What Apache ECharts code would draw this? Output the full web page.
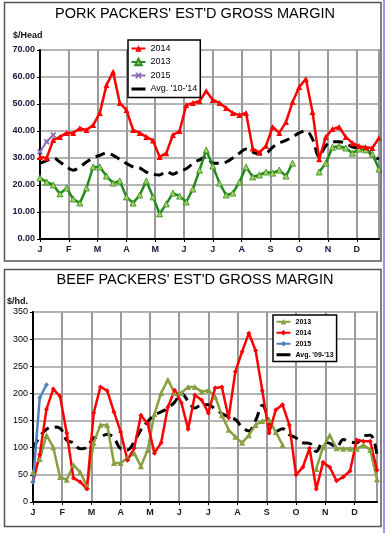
<!DOCTYPE html>
<html><head><meta charset="utf-8">
<script src="https://cdn.jsdelivr.net/npm/echarts/dist/echarts.min.js"></script>
<style>html,body{margin:0;padding:0;background:#fff}#c{width:390px;height:533px}</style>
</head><body><div id="c"></div>
<script>
const months = ['J','F','M','A','M','J','J','A','S','O','N','D'];
// Pork ($/Head), weekly
const pork2014 = [30.4,30,36.7,37.8,39.3,39.3,41,40.4,42.2,46.7,57,61.9,50.4,47.8,40.4,39.3,37.8,36.5,30.4,31.8,38.5,40,49.6,50.4,51,54.8,51.5,50.4,48.5,46.7,45.9,46.7,33.5,32,34.5,41.5,39.3,43.3,50.7,56.3,59.3,47,29.5,37.8,40.7,41.5,37.8,35.5,34.4,34,33.7,37.4];
const pork2013 = [22.6,21.1,20,16.7,18.9,14.8,13.3,18.9,26.7,26.7,23.3,20.7,21.5,15.6,13.3,16.3,21.5,15.6,9.3,13,17,15.9,13.7,18.5,25.5,33,27,20.7,16.3,17,21.1,26.7,23,23.7,24.8,24.4,25.5,23.3,28.1,null,null,null,24.8,28.1,34,34.4,33.7,31.8,33.3,33,31.5,25.9];
const pork2015 = [32.3,36,38.5];
const porkAvg = [28.1,29,30,28.5,26.7,25.5,26.7,28.5,30,31,31.8,31,29.5,28,26.7,26.3,24.8,24,23.7,25,24,25.2,26,28,29.3,30.4,28.1,28.1,28.5,30,31.8,33.3,32.2,31.5,31.8,34,35.5,36.5,37.8,39.3,40,37,30.5,34.5,36,36,35.5,34,33.7,33.3,31,29.6];
// Beef ($/hd.), weekly
const beef2013 = [55,79,123,101,46,41,68,55,29,109,142,142,72,72,81,90,66,96,162,201,225,201,201,212,212,203,206,194,160,133,120,109,123,142,149,151,129,105,null,null,null,null,61,101,123,99,98,98,98,105,96,42];
const beef2014 = [37,87,171,208,195,127,44,37,24,164,212,205,166,129,77,99,160,144,90,109,175,206,183,134,197,188,164,210,212,155,240,277,311,279,205,127,170,179,142,50,64,99,24,73,64,39,46,57,114,112,112,59];
const beef2015 = [37,192,216];
const beefAvg = [99,120,134,138,136,114,109,98,101,118,120,125,118,98,96,111,133,148,160,166,173,184,200,186,173,179,179,171,163,157,152,138,131,150,178,150,130,135,124,118,109,108,93,110,108,101,115,111,109,122,123,87];

const WEEKS = 52;
const toXY = arr => arr.map((v, i) => [i * 12 / WEEKS, v == null ? '-' : v]);
const FONT = "'Liberation Sans', Arial, sans-serif";
const xMax = 51 * 12 / WEEKS;

function xAxis(gi, color) {
  return {
    type: 'value', gridIndex: gi, min: 0, max: xMax, interval: 1,
    axisLine: { show: true, onZero: false, lineStyle: { color: '#000', width: 2 } },
    axisTick: { show: true, length: 3, lineStyle: { color: '#000', width: 1 } },
    axisLabel: { margin: 6, fontSize: 9, fontWeight: 'bold', color: color, fontFamily: FONT,
      showMaxLabel: false,
      formatter: v => { const i = Math.round(v); return Math.abs(v - i) < 1e-6 && months[i] ? months[i] : ''; } },
    splitLine: { show: true, lineStyle: { color: '#9a9a9a', width: 2 } }
  };
}
function yAxis(gi, max, interval, fmt) {
  return {
    type: 'value', gridIndex: gi, min: 0, max: max, interval: interval,
    axisLine: { show: true, lineStyle: { color: '#000', width: 2 } },
    axisTick: { show: true, length: 3, lineStyle: { color: '#000', width: 1 } },
    axisLabel: { margin: 5, fontSize: 9, fontWeight: gi === 0 ? 'bold' : 'normal', color: gi === 0 ? '#15153f' : '#000', fontFamily: FONT, formatter: fmt },
    splitLine: { show: true, lineStyle: { color: '#b4b4b4', width: 2 } }
  };
}

const crossPath = 'path://M2,0L5,3L8,0L10,2L7,5L10,8L8,10L5,7L2,10L0,8L3,5L0,2Z';
const hideSym = { color: 'rgba(0,0,0,0)', borderWidth: 0, opacity: 0 };
const solidLine = { type: 'solid', width: 3, color: '#000' };

const option = {
  animation: false,
  backgroundColor: '#fff',
  textStyle: { fontFamily: FONT },
  title: [
    { text: "PORK PACKERS' EST'D GROSS MARGIN", left: 'center', top: 6, padding: 0,
      textStyle: { fontSize: 14.5, fontWeight: 'normal', color: '#000', fontFamily: FONT } },
    { text: '$/Head', left: 13, top: 31, padding: 0, textStyle: { fontSize: 9, fontWeight: 'bold', color: '#111', fontFamily: FONT } },
    { text: "BEEF PACKERS' EST'D GROSS MARGIN", left: 'center', top: 272, padding: 0,
      textStyle: { fontSize: 14.5, fontWeight: 'normal', color: '#000', fontFamily: FONT } },
    { text: '$/hd.', left: 7, top: 297, padding: 0, textStyle: { fontSize: 9, fontWeight: 'bold', color: '#111', fontFamily: FONT } }
  ],
  legend: [
    { orient: 'vertical', left: 128, top: 40, selectedMode: false,
      backgroundColor: '#fff', borderColor: '#000', borderWidth: 1.5, borderRadius: 0,
      padding: [3, 3, 3, 2], itemWidth: 14, itemHeight: 8, itemGap: 2.5,
      textStyle: { fontSize: 9, color: '#000', lineHeight: 11, fontFamily: FONT },
      data: ['2014', '2013', '2015', { name: "Avg. '10-'14", itemStyle: hideSym, lineStyle: solidLine }] },
    { orient: 'vertical', left: 273, top: 315, selectedMode: false,
      backgroundColor: '#fff', borderColor: '#000', borderWidth: 1.5, borderRadius: 0,
      padding: [2, 3, 2, 2], itemWidth: 14, itemHeight: 7, itemGap: 1.5,
      formatter: n => n.replace('Beef ', ''),
      textStyle: { fontSize: 7, fontWeight: 'bold', color: '#000', lineHeight: 9.5, fontFamily: FONT },
      data: ['Beef 2013', 'Beef 2014', 'Beef 2015', { name: "Beef Avg. '09-'13", itemStyle: hideSym, lineStyle: solidLine }] }
  ],
  grid: [
    { left: 40, top: 50, width: 339, height: 189, show: true, borderColor: '#9a9a9a', borderWidth: 2, backgroundColor: 'transparent' },
    { left: 33, top: 312, width: 344, height: 190, show: true, borderColor: '#9a9a9a', borderWidth: 2, backgroundColor: 'transparent' }
  ],
  xAxis: [xAxis(0, '#15153f'), xAxis(1, '#1a1a1a')],
  yAxis: [yAxis(0, 70, 10, v => v.toFixed(2)), yAxis(1, 350, 50, v => String(v))],
  series: [
    { name: "Avg. '10-'14", type: 'line', xAxisIndex: 0, yAxisIndex: 0, data: toXY(porkAvg), smooth: 0.4,
      showSymbol: false, symbol: 'none', color: '#000', lineStyle: { color: '#000', width: 3, type: [10, 6] } },
    { name: '2013', type: 'line', xAxisIndex: 0, yAxisIndex: 0, data: toXY(pork2013),
      symbol: 'triangle', symbolSize: 6, color: '#9cc94f',
      itemStyle: { color: '#a6d05a', borderColor: '#2d8a22', borderWidth: 0.8 },
      lineStyle: { color: '#218a1c', width: 2.5 } },
    { name: '2015', type: 'line', xAxisIndex: 0, yAxisIndex: 0, data: toXY(pork2015),
      symbol: crossPath, symbolSize: 6, itemStyle: { color: '#8a6cb8' }, lineStyle: { color: '#8a6cb8', width: 2 } },
    { name: '2014', type: 'line', xAxisIndex: 0, yAxisIndex: 0, data: toXY(pork2014),
      symbol: 'triangle', symbolSize: 6, itemStyle: { color: '#ff0000' }, lineStyle: { color: '#ff0000', width: 2.5 } },

    { name: "Beef Avg. '09-'13", type: 'line', xAxisIndex: 1, yAxisIndex: 1, data: toXY(beefAvg), smooth: 0.4,
      showSymbol: false, symbol: 'none', color: '#000', lineStyle: { color: '#000', width: 3, type: [10, 6] } },
    { name: 'Beef 2013', type: 'line', xAxisIndex: 1, yAxisIndex: 1, data: toXY(beef2013),
      symbol: 'triangle', symbolSize: 6, itemStyle: { color: '#86a043' }, lineStyle: { color: '#86a043', width: 2.5 } },
    { name: 'Beef 2014', type: 'line', xAxisIndex: 1, yAxisIndex: 1, data: toXY(beef2014),
      symbol: 'diamond', symbolSize: 5, itemStyle: { color: '#ff0000' }, lineStyle: { color: '#ff0000', width: 2.5 } },
    { name: 'Beef 2015', type: 'line', xAxisIndex: 1, yAxisIndex: 1, data: toXY(beef2015),
      symbol: 'diamond', symbolSize: 5, itemStyle: { color: '#4f81bd' }, lineStyle: { color: '#4f81bd', width: 2.5 } }
  ],
  graphic: [
    { type: 'rect', shape: { x: 4.5, y: 2.5, width: 376.5, height: 258.5 }, style: { fill: 'none', stroke: '#555', lineWidth: 1.5 }, z: 100 },
    { type: 'rect', shape: { x: 4.5, y: 269.5, width: 376.5, height: 257 }, style: { fill: 'none', stroke: '#555', lineWidth: 1.5 }, z: 100 },
    { type: 'line', shape: { x1: 384, y1: 0, x2: 384, y2: 533 }, style: { stroke: '#7474e0', lineWidth: 1.5 }, z: 100 }
  ]
};
echarts.init(document.getElementById('c'), null, { renderer: 'canvas' }).setOption(option);
</script></body></html>
